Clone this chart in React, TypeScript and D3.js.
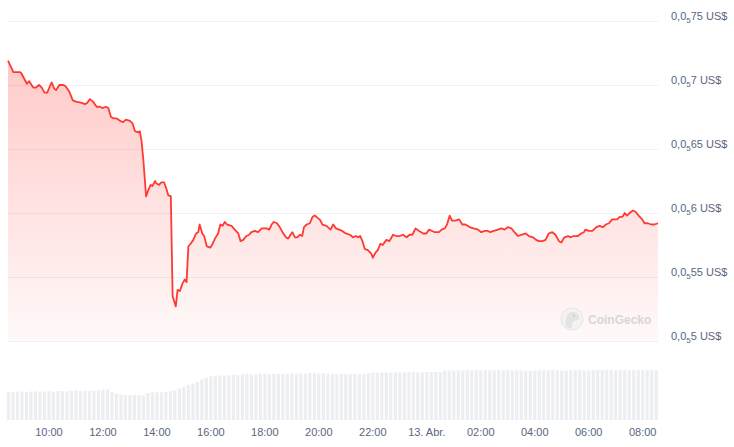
import { useRef, useEffect } from 'react';
import * as d3 from 'd3';

// price in millionths of US$ (0,0₅xx)
const priceTimes = [
  '08:29','08:41','08:56','08:59','09:11','09:16','09:25','09:31','09:38','09:44','09:50','09:56',
  '10:06','10:12','10:16','10:23','10:32','10:37','10:45','10:53','11:00','11:13','11:20','11:25',
  '11:31','11:38','11:46','11:53','11:59','12:07','12:12','12:18','12:23','12:30','12:38','12:45',
  '12:51','13:00','13:06','13:11','13:19','13:22','13:26','13:30','13:36','13:41','13:46','13:50',
  '13:56','13:59','14:05','14:10','14:16','14:22','14:25','14:31','14:35','14:42','14:46','14:51',
  '14:57','15:02','15:06','15:10','15:15','15:21','15:27','15:32','15:35','15:41','15:45','15:51',
  '15:59','16:04','16:09','16:16','16:21','16:26','16:31','16:36','16:46','16:53','17:01','17:06',
  '17:12','17:19','17:25','17:30','17:38','17:45','17:53','18:04','18:10','18:15','18:20','18:27',
  '18:33','18:41','18:47','18:52','18:57','19:01','19:07','19:12','19:18','19:23','19:27','19:33',
  '19:40','19:46','19:51','19:58','20:02','20:08','20:17','20:26','20:32','20:38','20:45','20:52',
  '21:00','21:09','21:16','21:22','21:27','21:32','21:37','21:42','21:49','21:57','22:00','22:06',
  '22:11','22:17','22:22','22:30','22:37','22:45','22:52','23:00','23:07','23:15','23:22','23:28',
  '23:35','23:43','23:52','23:59','00:05','00:18','00:27','00:33','00:40','00:45','00:51','00:56',
  '01:04','01:12','01:19','01:26','01:35','01:44','01:54','02:01','02:09','02:16','02:21','02:29',
  '02:38','02:46','02:53','03:00','03:08','03:15','03:23','03:30','03:40','03:47','03:56','04:03',
  '04:09','04:17','04:24','04:31','04:39','04:46','04:54','04:59','05:06','05:14','05:19','05:26',
  '05:36','05:43','05:49','05:53','06:00','06:08','06:17','06:24','06:32','06:38','06:45','06:52',
  '07:03','07:09','07:15','07:20','07:25','07:31','07:38','07:44','07:51','07:59','08:04','08:11',
  '08:19','08:26','08:34',
];
const priceValues = [
  7.19, 7.10, 7.10, 7.09, 7.01, 7.03, 6.98, 6.98, 7.00, 6.98, 6.94, 6.94,
  7.02, 6.97, 6.96, 7.00, 7.00, 6.99, 6.95, 6.88, 6.87, 6.86, 6.85, 6.86,
  6.89, 6.87, 6.83, 6.83, 6.82, 6.83, 6.82, 6.75, 6.74, 6.74, 6.72, 6.71,
  6.73, 6.72, 6.70, 6.64, 6.63, 6.64, 6.56, 6.41, 6.13, 6.18, 6.22, 6.21,
  6.25, 6.23, 6.22, 6.24, 6.24, 6.18, 6.14, 6.13, 5.35, 5.27, 5.40, 5.39,
  5.45, 5.48, 5.46, 5.74, 5.76, 5.79, 5.84, 5.85, 5.91, 5.84, 5.82, 5.74,
  5.73, 5.76, 5.80, 5.84, 5.91, 5.90, 5.93, 5.91, 5.90, 5.87, 5.84, 5.78,
  5.79, 5.82, 5.83, 5.85, 5.86, 5.85, 5.88, 5.88, 5.87, 5.91, 5.93, 5.92,
  5.89, 5.84, 5.81, 5.80, 5.83, 5.85, 5.81, 5.81, 5.83, 5.82, 5.89, 5.91,
  5.92, 5.97, 5.98, 5.96, 5.95, 5.91, 5.90, 5.87, 5.91, 5.88, 5.87, 5.86,
  5.84, 5.83, 5.81, 5.82, 5.81, 5.82, 5.78, 5.72, 5.71, 5.68, 5.65, 5.69,
  5.71, 5.76, 5.75, 5.79, 5.78, 5.83, 5.82, 5.82, 5.83, 5.81, 5.83, 5.83,
  5.88, 5.86, 5.84, 5.84, 5.87, 5.85, 5.85, 5.87, 5.88, 5.91, 5.98, 5.94,
  5.94, 5.95, 5.91, 5.91, 5.89, 5.88, 5.87, 5.85, 5.86, 5.86, 5.85, 5.86,
  5.87, 5.88, 5.87, 5.89, 5.88, 5.85, 5.82, 5.83, 5.84, 5.82, 5.81, 5.79,
  5.78, 5.78, 5.79, 5.84, 5.85, 5.83, 5.78, 5.77, 5.81, 5.82, 5.81, 5.82,
  5.82, 5.84, 5.85, 5.87, 5.86, 5.86, 5.89, 5.90, 5.89, 5.91, 5.92, 5.95,
  5.95, 5.97, 5.97, 6.00, 5.98, 6.00, 6.02, 6.01, 5.98, 5.95, 5.92, 5.92,
  5.91, 5.91, 5.92,
];

// volume bars, one per 10 minutes from 08:30 (relative units)
const volumeStart = '08:30';
const volumeValues = [
  28.4, 28.1, 28.6, 28.3, 28.0, 28.5, 28.7, 28.2, 28.6, 28.9, 28.4, 28.8,
  29.1, 28.7, 29.2, 29.5, 29.0, 29.3, 29.1, 29.4, 29.6, 30.4, 30.6, 28.2,
  26.3, 25.4, 25.1, 25.0, 25.2, 24.9, 24.4, 26.9, 27.5, 27.8, 27.6, 28.3,
  29.0, 29.8, 31.5, 33.2, 35.0, 36.4, 38.2, 40.6, 42.3, 43.5, 44.2, 44.6,
  44.3, 44.9, 45.2, 44.8, 45.6, 45.9, 45.5, 45.7, 46.1, 46.3, 45.9, 46.2,
  46.0, 46.4, 46.1, 46.5, 46.3, 46.6, 46.2, 46.8, 46.5, 46.4, 46.7, 46.3,
  46.1, 45.8, 46.2, 46.0, 45.7, 46.3, 45.9, 46.1, 47.0, 47.6, 47.2, 47.4,
  47.5, 47.3, 47.6, 47.8, 47.5, 47.7, 47.9, 47.6, 47.8, 48.0, 47.8, 48.1,
  48.0, 49.4, 49.6, 49.5, 49.7, 49.6, 49.8, 49.5, 49.7, 49.6, 49.8, 49.7,
  49.5, 49.7, 49.6, 49.8, 49.4, 49.6, 49.7, 49.5, 49.3, 49.6, 49.5, 49.7,
  49.6, 49.8, 49.5, 49.7, 49.4, 49.6, 49.8, 49.7, 49.5, 49.6, 49.8, 49.9,
  49.7, 49.9, 50.0, 49.8, 50.1, 50.2, 50.0, 50.1, 49.9, 50.0, 50.1, 50.0,
  50.0,
];

const yTicks = [5, 5.5, 6, 6.5, 7, 7.5];

const width = 734;
const height = 447;

// "HH:MM" list -> Dates, rolling over to the next day
function toDates(times) {
  let day = 12;
  let prev = -1;
  return times.map((t) => {
    const [h, m] = t.split(':').map(Number);
    const mins = h * 60 + m;
    if (mins < prev) day += 1;
    prev = mins;
    return new Date(2024, 3, day, h, m);
  });
}

export default function App() {
  const svgRef = useRef(null);

  useEffect(() => {
    const svg = d3.select(svgRef.current);
    svg.selectAll('*').remove();

    const dates = toDates(priceTimes);
    const data = dates.map((d, i) => ({ date: d, value: priceValues[i] }));

    const x = d3.scaleTime().domain([dates[0], dates[dates.length - 1]]).range([8, 658]);
    const y = d3.scaleLinear().domain([5, 7.5]).range([341, 21]);

    const vStart = toDates([volumeStart])[0];
    const vols = volumeValues.map((v, i) => ({ date: d3.timeMinute.offset(vStart, i * 10), value: v }));
    const yVol = d3.scaleLinear().domain([0, 50]).range([420, 370]);

    const font = '"Liberation Sans", Arial, sans-serif';
    const textColor = '#58667e';

    // grid
    svg.append('g')
      .selectAll('line')
      .data(yTicks)
      .join('line')
      .attr('x1', 8)
      .attr('x2', 658)
      .attr('y1', (d) => Math.round(y(d)) + 0.5)
      .attr('y2', (d) => Math.round(y(d)) + 0.5)
      .attr('stroke', '#eff1f3')
      .attr('stroke-width', 1);

    // y labels  0,0₅xx US$
    const labels = svg.append('g')
      .selectAll('text')
      .data(yTicks)
      .join('text')
      .attr('x', 671)
      .attr('y', (d) => Math.round(y(d)) - 1)
      .attr('font-family', font)
      .attr('font-size', 11)
      .attr('fill', textColor);
    labels.append('tspan').text('0,0');
    labels.append('tspan').attr('font-size', 8).attr('dy', 3).text('5');
    labels.append('tspan').attr('dy', -3).text((d) => String(d).replace('.', '') + ' US$');

    // volume
    svg.append('g')
      .selectAll('rect')
      .data(vols)
      .join('rect')
      .attr('x', (d) => x(d.date) - 1.6)
      .attr('width', 3.2)
      .attr('y', (d) => yVol(d.value))
      .attr('height', (d) => yVol(0) - yVol(d.value))
      .attr('fill', '#eceef2');

    // area + line
    const defs = svg.append('defs');
    const grad = defs.append('linearGradient')
      .attr('id', 'priceFill')
      .attr('x1', 0).attr('x2', 0).attr('y1', 0).attr('y2', 1);
    grad.append('stop').attr('offset', '0%').attr('stop-color', '#ff3a33').attr('stop-opacity', 0.27);
    grad.append('stop').attr('offset', '100%').attr('stop-color', '#ff3a33').attr('stop-opacity', 0.03);

    const area = d3.area()
      .x((d) => x(d.date))
      .y0(y(5))
      .y1((d) => y(d.value));
    svg.append('path')
      .datum(data)
      .attr('d', area)
      .attr('fill', 'url(#priceFill)');

    const line = d3.line()
      .x((d) => x(d.date))
      .y((d) => y(d.value));
    svg.append('path')
      .datum(data)
      .attr('d', line)
      .attr('fill', 'none')
      .attr('stroke', '#ff3a33')
      .attr('stroke-width', 1.8)
      .attr('stroke-linejoin', 'round');

    // x axis labels
    const ticks = x.ticks(d3.timeHour.every(2));
    svg.append('g')
      .selectAll('text')
      .data(ticks)
      .join('text')
      .attr('x', (d) => x(d))
      .attr('y', 436)
      .attr('text-anchor', 'middle')
      .attr('font-family', font)
      .attr('font-size', 11)
      .attr('fill', textColor)
      .text((d) => (d.getHours() === 0 ? `${d.getDate()}. Abr.` : d3.timeFormat('%H:%M')(d)));

    // watermark
    const wm = svg.append('g').attr('opacity', 0.9);
    wm.append('circle').attr('cx', 572).attr('cy', 319).attr('r', 11)
      .attr('fill', '#f3f3f3').attr('stroke', '#e4e4e4');
    wm.append('path')
      .attr('d', 'M566,327 C565,318 567,312 573,312 C578,312 580,316 579,319 L575,321 C572,322 571,325 572,329 Z')
      .attr('fill', '#e2e2e2');
    wm.append('circle').attr('cx', 574).attr('cy', 316).attr('r', 1.2).attr('fill', '#cfcfcf');
    wm.append('text')
      .attr('x', 588)
      .attr('y', 324)
      .attr('font-family', font)
      .attr('font-size', 12)
      .attr('font-weight', 'bold')
      .attr('fill', '#d4d4d4')
      .text('CoinGecko');
  }, []);

  return (
    <div>
      <svg
        ref={svgRef}
        width={width}
        height={height}
        style={{ position: 'absolute', left: 0, top: 0, background: '#fff' }}
      />
    </div>
  );
}
